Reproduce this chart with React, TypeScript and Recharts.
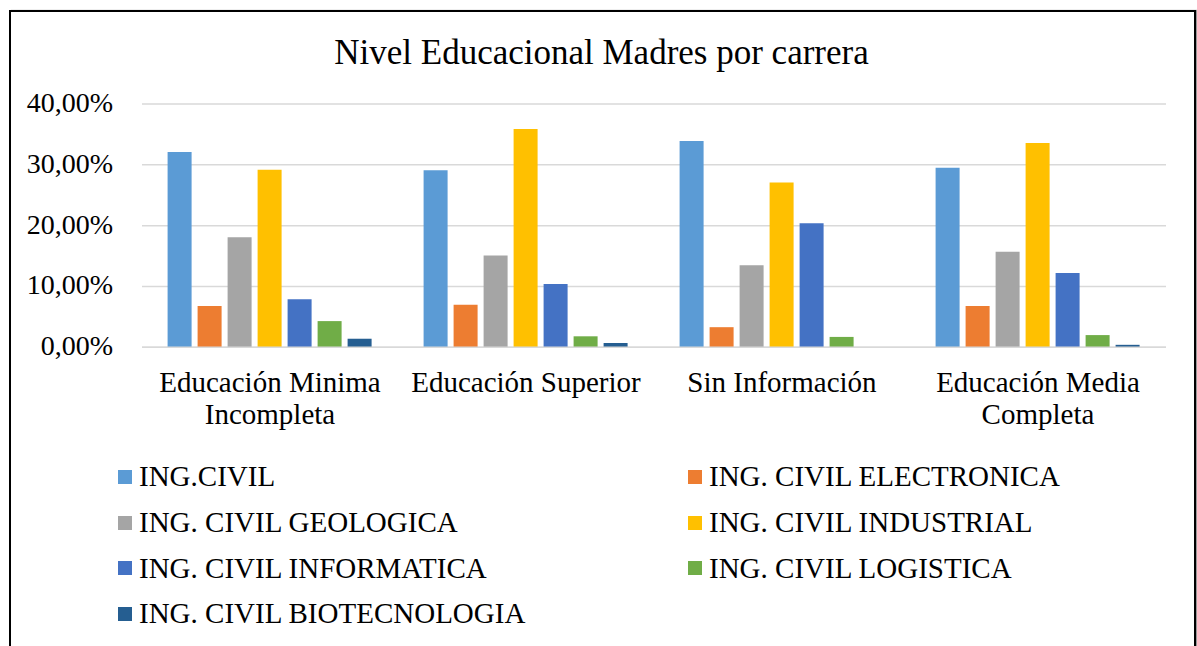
import { BarChart, Bar, XAxis, YAxis, CartesianGrid, Legend } from "recharts";

const categories = [
  "Educación Minima Incompleta",
  "Educación Superior",
  "Sin Información",
  "Educación Media Completa",
];

const seriesNames = [
  "ING.CIVIL",
  "ING. CIVIL ELECTRONICA",
  "ING. CIVIL GEOLOGICA",
  "ING. CIVIL INDUSTRIAL",
  "ING. CIVIL INFORMATICA",
  "ING. CIVIL LOGISTICA",
  "ING. CIVIL BIOTECNOLOGIA",
];

const civil = [32.1, 29.1, 33.9, 29.5];
const electronica = [6.8, 7.0, 3.3, 6.8];
const geologica = [18.1, 15.1, 13.5, 15.7];
const industrial = [29.2, 35.9, 27.1, 33.6];
const informatica = [7.9, 10.4, 20.4, 12.2];
const logistica = [4.3, 1.8, 1.7, 2.0];
const biotecnologia = [1.4, 0.7, 0, 0.4];

const yTicks = [0, 10, 20, 30, 40];

const colors = ["#5B9BD5", "#ED7D31", "#A5A5A5", "#FFC000", "#4472C4", "#70AD47", "#255E91"];

const seriesValues = [civil, electronica, geologica, industrial, informatica, logistica, biotecnologia];

const data = categories.map((name, i) => {
  const row: Record<string, string | number> = { name };
  seriesNames.forEach((s, j) => {
    row[s] = seriesValues[j][i];
  });
  return row;
});

const FONT = '"Liberation Serif", "Times New Roman", serif';

const formatPct = (v: number) => `${v.toFixed(2).replace(".", ",")}%`;

// greedy word wrap, measured with a canvas
let measureCtx: CanvasRenderingContext2D | null = null;
function wrapLabel(label: string, maxWidth: number, font: string) {
  if (!measureCtx) measureCtx = document.createElement("canvas").getContext("2d");
  const ctx = measureCtx!;
  ctx.font = font;
  const words = label.split(" ");
  const lines: string[] = [];
  let current = "";
  words.forEach((w) => {
    const test = current ? `${current} ${w}` : w;
    if (current && ctx.measureText(test).width > maxWidth) {
      lines.push(current);
      current = w;
    } else {
      current = test;
    }
  });
  if (current) lines.push(current);
  return lines;
}

function CategoryTick(props: any) {
  const { x, y, payload } = props;
  const lines = wrapLabel(payload.value, 250, `29px ${FONT}`);
  return (
    <text x={x} y={y + 37} textAnchor="middle" fill="#000" style={{ fontSize: 29, fontFamily: FONT }}>
      {lines.map((l, i) => (
        <tspan key={i} x={x} dy={i === 0 ? 0 : 32}>
          {l}
        </tspan>
      ))}
    </text>
  );
}

function LegendContent() {
  return (
    <div
      style={{
        display: "grid",
        gridTemplateColumns: "570px auto",
        gridAutoRows: "45.7px",
        paddingLeft: 118,
        fontFamily: FONT,
        fontSize: 29,
        color: "#000",
      }}
    >
      {seriesNames.map((s, i) => (
        <div key={s} style={{ display: "flex", alignItems: "center", whiteSpace: "nowrap" }}>
          <span style={{ display: "inline-block", width: 14, height: 14, background: colors[i], marginRight: 7 }} />
          <span>{s}</span>
        </div>
      ))}
    </div>
  );
}

export default function App() {
  return (
    <div style={{ position: "absolute", top: 0, left: 0, width: 1197, height: 646, overflow: "hidden", background: "#fff" }}>
      <div
        style={{
          position: "absolute",
          left: 9,
          top: 10,
          width: 1183,
          height: 700,
          border: "2px solid #000",
          boxShadow: "2px 0 1px #999",
        }}
      />
      <div
        style={{
          position: "absolute",
          top: 33,
          left: 0,
          width: 1203,
          textAlign: "center",
          fontFamily: FONT,
          fontSize: 35,
          color: "#000",
        }}
      >
        Nivel Educacional Madres por carrera
      </div>
      <div style={{ position: "absolute", top: 0, left: 0 }}>
        <BarChart
          width={1197}
          height={646}
          data={data}
          margin={{ top: 104, right: 31, left: 0, bottom: 9 }}
          barCategoryGap="10%"
          barGap={6}
        >
          <CartesianGrid vertical={false} stroke="#d9d9d9" strokeWidth={1.5} />
          <XAxis
            dataKey="name"
            height={107}
            interval={0}
            tickLine={false}
            axisLine={{ stroke: "#d9d9d9", strokeWidth: 1.5 }}
            tick={<CategoryTick />}
          />
          <YAxis
            width={142}
            domain={[0, 40]}
            ticks={yTicks}
            tickFormatter={formatPct}
            tickLine={false}
            axisLine={false}
            tickMargin={23}
            tick={{ fontSize: 28, fontFamily: FONT, fill: "#000", dy: -2 }}
          />
          <Legend
            verticalAlign="bottom"
            content={<LegendContent />}
            wrapperStyle={{ top: 454, left: 0, bottom: "auto", width: 1197 }}
          />
          {seriesNames.map((s, i) => (
            <Bar key={s} dataKey={s} fill={colors[i]} isAnimationActive={false} />
          ))}
        </BarChart>
      </div>
    </div>
  );
}
